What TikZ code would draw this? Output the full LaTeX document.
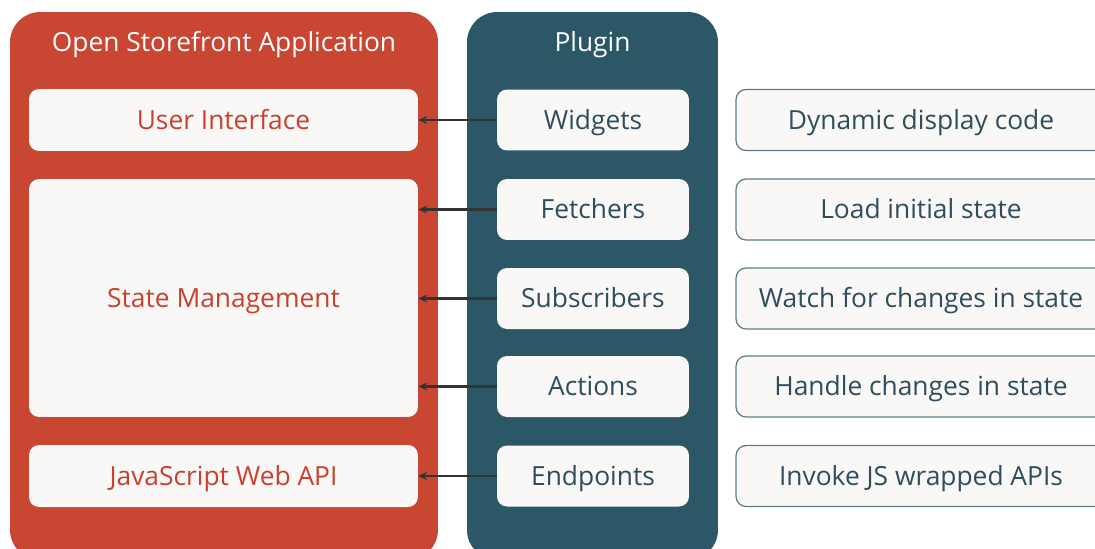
\documentclass[tikz,border=0pt]{standalone}
\usepackage{fontspec}
\setmainfont{Open Sans}
\usetikzlibrary{arrows.meta}

\definecolor{osfred}{HTML}{C84632}
\definecolor{osftext}{HTML}{C8412C}
\definecolor{plugteal}{HTML}{2B5766}
\definecolor{plugtext}{HTML}{2D4E5C}
\definecolor{boxwhite}{HTML}{FAF8F6}
\definecolor{noteline}{HTML}{5E7C86}

\tikzset{
  label text/.style={font=\fontsize{15}{18}\selectfont, text height=10.7pt, text depth=0pt},
  panel/.style={rounded corners=0.6cm, inner sep=0pt},
  appbox/.style={label text, fill=boxwhite, rounded corners=0.2cm, inner sep=0pt,
    minimum width=7.78cm, text=osftext},
  plugbox/.style={label text, fill=boxwhite, rounded corners=0.2cm, inner sep=0pt,
    minimum width=3.84cm, minimum height=1.22cm, text=plugtext},
  notebox/.style={label text, draw=noteline, line width=0.7pt, fill=boxwhite,
    rounded corners=0.2cm, inner sep=0pt, minimum width=7.4cm,
    minimum height=1.22cm, text=plugtext},
  feed/.style={-{Stealth[length=5pt,width=4.5pt]}, line width=1.4pt, draw=black!80}
}

\begin{document}
\begin{tikzpicture}[x=0.02cm, y=-0.02cm]
  \clip (0,0) rectangle (1095,548);
  \useasboundingbox (0,0) rectangle (1095,548);

  % the two columns
  \node[panel, fill=osfred, minimum width=8.56cm, minimum height=10.96cm] (app) at (224,286) {};
  \node[panel, fill=plugteal, minimum width=5.02cm, minimum height=10.96cm] (plugin) at (592.5,286) {};
  \node[label text, text=white] (apptitle) at (224,42) {Open Storefront Application};
  \node[label text, text=white] (plugtitle) at (592.5,42) {Plugin};

  % application parts
  \node[appbox, minimum height=1.24cm] (ui) at (223.5,120) {User Interface};
  \node[appbox, minimum height=4.76cm] (sm) at (223.5,298) {State Management};
  \node[appbox, minimum height=1.24cm] (api) at (223.5,476) {JavaScript Web API};

  % plugin parts and what they do
  \foreach \name/\txt/\yy/\note in {wid/Widgets/120/Dynamic display code,
      fet/Fetchers/209.5/Load initial state,
      sub/Subscribers/298.5/Watch for changes in state,
      act/Actions/386.5/Handle changes in state,
      endp/Endpoints/476/Invoke JS wrapped APIs} {
    \node[plugbox] (\name) at (593,\yy) {\txt};
    \node[notebox] (\name-note) at (921,\yy) {\note};
  }

  \draw[feed] (wid.west) -- (ui.east);
  \draw[feed] (fet.west) -- (sm.east |- fet.west);
  \draw[feed] (sub.west) -- (sm.east |- sub.west);
  \draw[feed] (act.west) -- (sm.east |- act.west);
  \draw[feed] (endp.west) -- (api.east);
\end{tikzpicture}
\end{document}
